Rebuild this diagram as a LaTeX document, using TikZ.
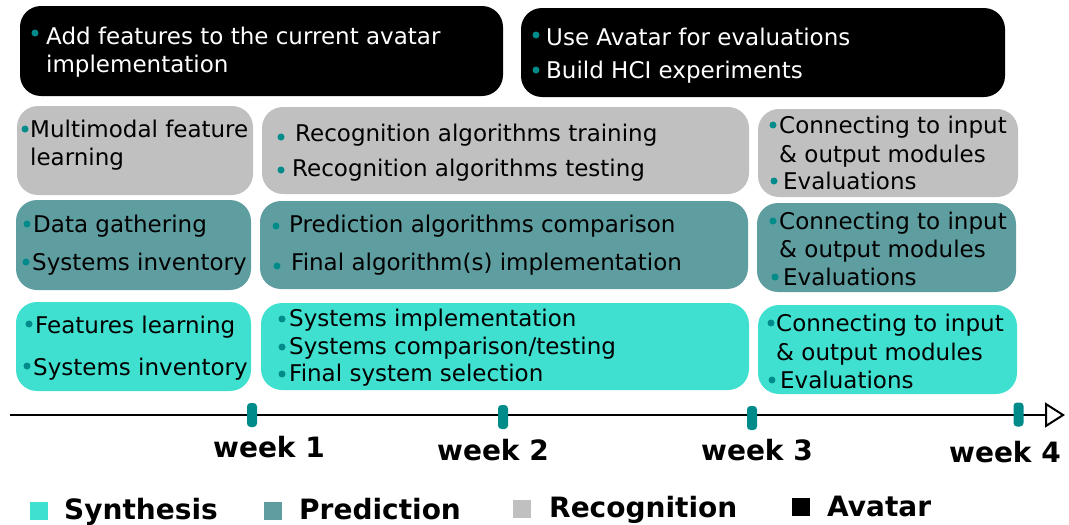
\documentclass[tikz,border=0pt]{standalone}
\usepackage{fontspec}
\setmainfont{DejaVu Sans}
\usetikzlibrary{arrows.meta}
\definecolor{syn}{HTML}{40E0D0}
\definecolor{pred}{HTML}{5F9EA0}
\definecolor{reco}{HTML}{C0C0C0}
\definecolor{dot}{HTML}{008B8B}

\begin{document}
\begin{tikzpicture}[x=1pt,y=-1pt,
  panel/.style={draw=none, rounded corners=21pt, inner sep=0pt},
  ln/.style={anchor=base west, inner sep=0pt, font=\fontsize{23}{27}\selectfont},
  lnw/.style={ln, text=white},
  bul/.style={circle, fill=dot, inner sep=0pt, minimum size=7pt},
  tickmark/.style={rounded corners=3.5pt, fill=dot, minimum width=10pt, minimum height=24pt, inner sep=0pt},
  wk/.style={anchor=base, inner sep=0pt, font=\fontsize{28}{31}\selectfont\bfseries},
  leg/.style={anchor=base west, inner sep=0pt, font=\fontsize{28}{32}\selectfont\bfseries},
  sq/.style={minimum size=18pt, inner sep=0pt}]

\useasboundingbox (0,0) rectangle (1069,525);

% ---- Avatar row ----
\node[panel, fill=black, minimum width=483pt, minimum height=90pt] (av1) at (261.5,51) {};
\node[panel, fill=black, minimum width=484pt, minimum height=89pt] (av2) at (763,52.5) {};
\node[bul] (av1b1) at (35,33) {};
\node[lnw] (av1t1) at (46,44) {Add features to the current avatar};
\node[lnw] (av1t2) at (46,72) {implementation};
\node[bul] (av2b1) at (536,35) {};
\node[lnw] (av2t1) at (546,45) {Use Avatar for evaluations};
\node[bul] (av2b2) at (536,70) {};
\node[lnw] (av2t2) at (546,78) {Build HCI experiments};

% ---- Recognition row ----
\node[panel, fill=reco, minimum width=236pt, minimum height=89pt] (rc1) at (135,150.5) {};
\node[panel, fill=reco, minimum width=487pt, minimum height=87pt] (rc2) at (505.5,150.5) {};
\node[panel, fill=reco, minimum width=260pt, minimum height=88pt] (rc3) at (888,153) {};
\node[bul] (rc1b1) at (25,129) {};
\node[ln] (rc1t1) at (30,137) {Multimodal feature};
\node[ln] (rc1t2) at (30,165) {learning};
\node[bul] (rc2b1) at (281,137) {};
\node[ln] (rc2t1) at (295,141) {Recognition algorithms training};
\node[bul] (rc2b2) at (281,170) {};
\node[ln] (rc2t2) at (292,176) {Recognition algorithms testing};
\node[bul] (rc3b1) at (773,125) {};
\node[ln] (rc3t1) at (779,133) {Connecting to input};
\node[ln] (rc3t2) at (779,162) {\& output modules};
\node[bul] (rc3b2) at (774,181) {};
\node[ln] (rc3t3) at (783,189) {Evaluations};

% ---- Prediction row ----
\node[panel, fill=pred, minimum width=235pt, minimum height=90pt] (pr1) at (133.5,245) {};
\node[panel, fill=pred, minimum width=488pt, minimum height=88pt] (pr2) at (504,245) {};
\node[panel, fill=pred, minimum width=259pt, minimum height=89pt] (pr3) at (886.5,247.5) {};
\node[bul] (pr1b1) at (27,224) {};
\node[ln] (pr1t1) at (33,232) {Data gathering};
\node[bul] (pr1b2) at (26,262) {};
\node[ln] (pr1t2) at (32,270) {Systems inventory};
\node[bul] (pr2b1) at (276,226) {};
\node[ln] (pr2t1) at (289,232) {Prediction algorithms comparison};
\node[bul] (pr2b2) at (277,266) {};
\node[ln] (pr2t2) at (291,270) {Final algorithm(s) implementation};
\node[bul] (pr3b1) at (773,221) {};
\node[ln] (pr3t1) at (779,229) {Connecting to input};
\node[ln] (pr3t2) at (779,257) {\& output modules};
\node[bul] (pr3b2) at (775,277) {};
\node[ln] (pr3t3) at (783,285) {Evaluations};

% ---- Synthesis row ----
\node[panel, fill=syn, minimum width=235pt, minimum height=89pt] (sy1) at (133.5,346.5) {};
\node[panel, fill=syn, minimum width=488pt, minimum height=87pt] (sy2) at (505,346.5) {};
\node[panel, fill=syn, minimum width=259pt, minimum height=89pt] (sy3) at (887.5,349.5) {};
\node[bul] (sy1b1) at (29,324) {};
\node[ln] (sy1t1) at (35,333) {Features learning};
\node[bul] (sy1b2) at (27,366) {};
\node[ln] (sy1t2) at (33,375) {Systems inventory};
\node[bul] (sy2b1) at (282,319) {};
\node[ln] (sy2t1) at (289,326) {Systems implementation};
\node[bul] (sy2b2) at (282,347) {};
\node[ln] (sy2t2) at (289,354) {Systems comparison/testing};
\node[bul] (sy2b3) at (282,374) {};
\node[ln] (sy2t3) at (289,381) {Final system selection};
\node[bul] (sy3b1) at (771,323) {};
\node[ln] (sy3t1) at (776,331) {Connecting to input};
\node[ln] (sy3t2) at (776,360) {\& output modules};
\node[bul] (sy3b2) at (772,380) {};
\node[ln] (sy3t3) at (780,388) {Evaluations};

% ---- Time axis ----
\coordinate (axstart) at (10,415);
\coordinate (axend) at (1065,415);
\draw[line width=2.6pt, -{Triangle[open, length=20pt, width=25pt, line width=2pt]}] (axstart) -- (axend);
\node[tickmark] (t1) at (252,415) {};
\node[tickmark] (t2) at (503,417) {};
\node[tickmark] (t3) at (752,418) {};
\node[tickmark] (t4) at (1018.5,414.5) {};
\node[wk] (w1) at (269,457) {week 1};
\node[wk] (w2) at (493,460) {week 2};
\node[wk] (w3) at (757,460) {week 3};
\node[wk] (w4) at (1005,462) {week 4};

% ---- Legend ----
\node[sq, fill=syn] (lg1) at (39,511) {};
\node[leg] (lg1t) at (64,519) {Synthesis};
\node[sq, fill=pred] (lg2) at (273,511) {};
\node[leg] (lg2t) at (299,519) {Prediction};
\node[sq, fill=reco] (lg3) at (522,509) {};
\node[leg] (lg3t) at (549,517) {Recognition};
\node[sq, fill=black] (lg4) at (801,507) {};
\node[leg] (lg4t) at (827,516) {Avatar};
\end{tikzpicture}
\end{document}
